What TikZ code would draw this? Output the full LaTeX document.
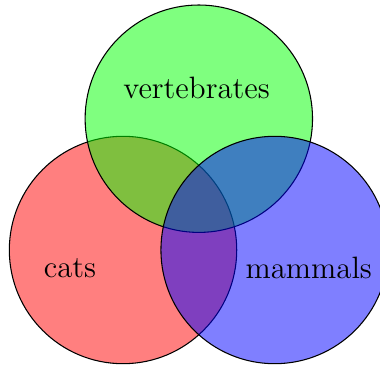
\documentclass[tikz,border=0pt]{standalone}
\begin{document}
\begin{tikzpicture}[
  setcircle/.style={draw=black, fill opacity=0.5, line width=0.4pt},
  setlabel/.style={font=\fontsize{11.6}{14}\selectfont, text opacity=1}
]
\useasboundingbox (-1.623,-1.504) rectangle (3.39,3.298);
% three sets, each a circle of radius 1.5cm on an equilateral triangle
\draw[setcircle, fill=red]   (0,0)     circle (1.5cm);
\draw[setcircle, fill=green] (1,1.732) circle (1.5cm);
\draw[setcircle, fill=blue]  (2,0)     circle (1.5cm);
% set names
\node[setlabel] (vert) at (0.97,2.14)  {vertebrates};
\node[setlabel] (cats) at (-0.70,-0.24) {cats};
\node[setlabel] (mamm) at (2.45,-0.24)  {mammals};
\end{tikzpicture}
\end{document}
